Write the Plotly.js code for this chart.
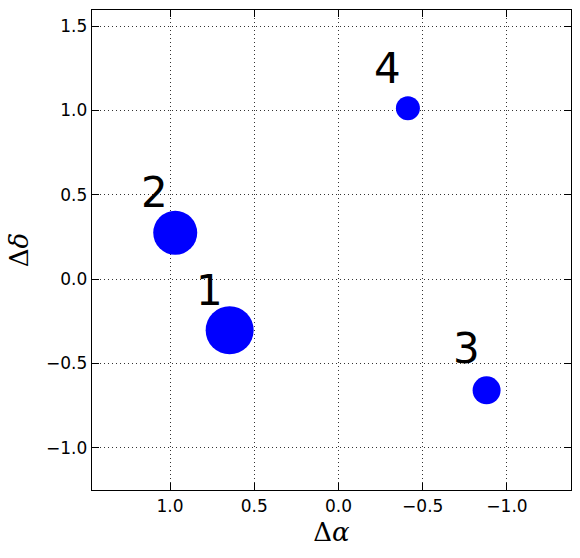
<!DOCTYPE html>
<html>
<head>
<meta charset="utf-8">
<script src="https://cdn.plot.ly/plotly-3.0.1.min.js"></script>
<style>html,body{margin:0;padding:0;background:#fff;}#chart{width:580px;height:558px;}</style>
</head>
<body>
<div id="chart"></div>
<script>
const labels = ["1", "2", "3", "4"];
const dAlpha = [0.646, 0.969, -0.879, -0.412];
const dDelta = [-0.304, 0.274, -0.660, 1.012];
const markerSizes = [48, 44, 28, 24];
const labelAlpha = [0.767, 1.094, -0.757, -0.291];
const labelDelta = [-0.068, 0.513, -0.412, 1.246];
const xTickVals = [1.0, 0.5, 0.0, -0.5, -1.0];
const xTickText = ["1.0", "0.5", "0.0", "\u22120.5", "\u22121.0"];
const yTickVals = [-1.0, -0.5, 0.0, 0.5, 1.0, 1.5];
const yTickText = ["\u22121.0", "\u22120.5", "0.0", "0.5", "1.0", "1.5"];

const trace = {
  x: dAlpha, y: dDelta, mode: "markers", type: "scatter",
  marker: {size: markerSizes, color: "#0000ff", opacity: 1, line: {width: 0}},
  hoverinfo: "skip", showlegend: false
};

const annotations = labels.map((t, i) => ({
  x: labelAlpha[i], y: labelDelta[i], xref: "x", yref: "y",
  text: t, showarrow: false, xanchor: "center", yanchor: "middle",
  font: {family: "DejaVu Sans", size: 42, color: "#000"}
}));

const axisCommon = {
  showline: true, linecolor: "#000", linewidth: 1.3, mirror: "ticks",
  ticks: "inside", ticklen: 7, tickwidth: 1, tickcolor: "#000",
  showgrid: true, gridcolor: "#000", gridwidth: 0.8, griddash: "1px,3px",
  zeroline: false, automargin: false,
  tickfont: {family: "DejaVu Sans", size: 17, color: "#000"},
  tickmode: "array"
};

const layout = {
  width: 580, height: 558,
  margin: {l: 92, r: 9, t: 10, b: 68},
  paper_bgcolor: "#fff", plot_bgcolor: "#fff",
  xaxis: Object.assign({}, axisCommon, {
    range: [1.463, -1.38], tickvals: xTickVals, ticktext: xTickText,
    title: {text: "\u0394<i>\u03b1</i>", font: {family: "DejaVu Serif", size: 26, color: "#000"}, standoff: 8}
  }),
  yaxis: Object.assign({}, axisCommon, {
    range: [-1.251, 1.595], tickvals: yTickVals, ticktext: yTickText,
    title: {text: "\u0394<i>\u03b4</i>", font: {family: "DejaVu Serif", size: 26, color: "#000"}, standoff: 10}
  }),
  annotations: annotations
};

Plotly.newPlot("chart", [trace], layout, {displayModeBar: false, staticPlot: true});
</script>
</body>
</html>
